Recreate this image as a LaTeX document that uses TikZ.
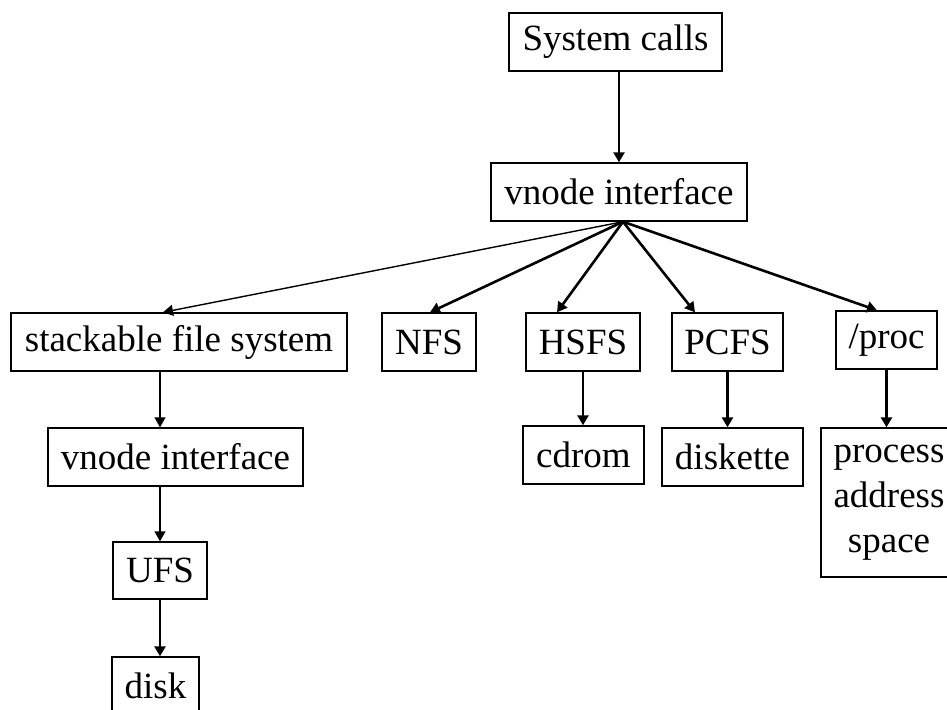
\documentclass[tikz,border=0pt]{standalone}
\usepackage{fontspec}
\setmainfont{Liberation Serif}
\usetikzlibrary{arrows.meta, positioning}

\tikzset{
  fsbox/.style={draw, line width=0.7pt, inner sep=0pt, minimum height=29pt,
    font=\fontsize{18.5pt}{22.5pt}\selectfont},
  heavy/.style={-{Triangle[length=5pt, width=5.5pt]}, line width=1.3pt},
  light/.style={-{Triangle[length=5pt, width=5.5pt]}, line width=0.7pt},
}

\begin{document}
\begin{tikzpicture}[x=0.5pt, y=-0.5pt]
    \useasboundingbox (0,0) rectangle (947,709);
    \node[fsbox, minimum width=106.5pt] (sys) at (615.5,42) {System calls};
    \node[fsbox, minimum width=128pt] (vif) at (619,192) {vnode interface};
    \node[fsbox, minimum width=168pt] (stack) at (179,342) {stackable file system};
    \node[fsbox, minimum width=47pt] (nfs) at (429,342) {NFS};
    \node[fsbox, minimum width=57pt] (hsfs) at (583,342) {HSFS};
    \node[fsbox, minimum width=55.5pt] (pcfs) at (727.5,342) {PCFS};
    \node[fsbox, minimum width=50.5pt] (proc) at (886.5,340) {/proc};
    \node[fsbox, minimum width=127.5pt] (vif2) at (175.5,457) {vnode interface};
    \node[fsbox, minimum width=60.5pt] (cdrom) at (583.5,455) {cdrom};
    \node[fsbox, minimum width=70.5pt] (diskette) at (732.5,457) {diskette};
    \node[fsbox, minimum width=68pt, minimum height=74.5pt, align=center] (process) at (889,502.5) {process\\address\\space};
    \node[fsbox, minimum width=47pt, minimum height=28.5pt] (ufs) at (160,570.5) {UFS};
    \node[fsbox, minimum width=43.5pt] (disk) at (155.5,686) {disk};
    \draw[heavy] (vif.north |- sys.south) -- (vif.north);
    \draw[light] ([xshift=2pt]vif.south) -- ([xshift=-8pt]stack.north);
    \foreach \fs/\dx in {nfs/0.5pt, hsfs/-13pt, pcfs/-16.25pt, proc/-4.75pt} {
      \draw[heavy] ([xshift=2pt]vif.south) -- ([xshift=\dx]\fs.north);
    }
    \draw[light] (stack.south -| ufs.north) -- (vif2.north -| ufs.north);
    \draw[light] (vif2.south -| ufs.north) -- (ufs.north);
    \draw[heavy] (ufs.south) -- (ufs.south |- disk.north);
    \draw[heavy] (hsfs.south) -- (hsfs.south |- cdrom.north);
    \draw[heavy] (pcfs.south) -- (pcfs.south |- diskette.north);
    \draw[heavy] (proc.south) -- (proc.south |- process.north);
  \end{tikzpicture}
\end{document}
